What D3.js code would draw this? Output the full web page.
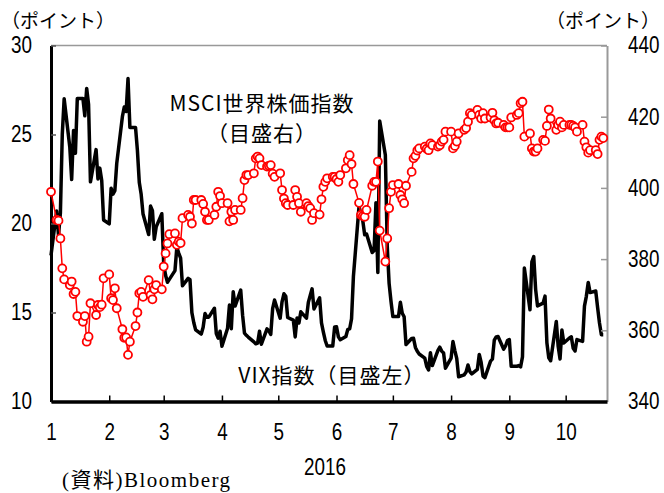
<!DOCTYPE html>
<meta charset=utf-8>
<style>
body { margin: 0; background: white }
svg { display: block }
.tick text { font-family: "Liberation Sans", sans-serif; font-size: 23px; fill: black }
.jp { font-family: "Noto Sans CJK JP", sans-serif; fill: black }
</style>
<script src="https://cdn.jsdelivr.net/npm/d3@7"></script>
<body>
<svg width=664 height=493 id=chart></svg>
<script>
// month tick labels
const months = ["1","2","3","4","5","6","7","8","9","10"];
const leftTicks = [10, 15, 20, 25, 30];
const rightTicks = [340, 360, 380, 400, 420, 440];

// VIX (left axis), one value per weekday, Jan 1 .. Oct 21 2016
const vix = [
	18.21, 20.70, 19.34, 20.59, 24.99, 27.01, 24.30, 22.47, 25.22, 23.95, 27.02, 27.02, 26.05, 27.59, 26.69, 22.34, 24.15, 22.50, 23.11, 22.42, 20.20,
	19.98, 21.98, 21.65, 21.84, 23.38, 26.00, 26.54, 26.29, 28.14, 25.40, 25.40, 24.11, 22.31, 21.64, 20.53, 19.38, 20.98, 20.72, 19.11, 19.81, 20.55,
	17.70, 17.09, 16.70, 16.86, 17.35, 18.67, 18.34, 18.05, 16.50, 16.92, 16.84, 14.99, 14.44, 14.02, 13.79, 14.17, 14.94, 14.74, 14.74, 15.24, 13.82, 13.56, 13.95,
	13.10, 14.12, 15.42, 14.09, 16.16, 15.36, 16.26, 14.85, 13.84, 13.72, 13.62, 13.35, 13.24, 13.28, 13.95, 13.22, 14.08, 13.96, 13.77, 15.22, 15.70,
	14.68, 15.60, 16.05, 15.91, 14.72, 14.57, 13.63, 14.69, 14.41, 15.04, 14.68, 15.57, 15.95, 16.33, 15.20, 15.82, 14.42, 13.90, 13.43, 13.12, 13.12, 14.19,
	14.20, 13.63, 13.47, 13.65, 14.05, 14.08, 14.64, 17.03, 20.97, 20.50, 20.14, 19.37, 19.41, 18.37, 18.48, 21.17, 17.25, 25.76, 23.85, 18.75, 16.64, 15.63,
	14.77, 14.77, 15.58, 14.96, 14.76, 13.20, 13.54, 13.55, 13.04, 12.82, 12.67, 12.44, 11.97, 11.77, 12.74, 12.02, 12.87, 13.05, 12.83, 12.72, 11.87,
	12.44, 13.37, 12.86, 12.42, 11.39, 11.50, 11.66, 12.05, 11.68, 11.55, 11.81, 12.64, 12.19, 11.43, 11.34, 12.27, 12.38, 13.45, 13.63, 13.65, 12.94, 13.12, 13.42,
	13.48, 11.98, 11.98, 12.02, 11.94, 12.51, 17.50, 15.16, 17.85, 18.14, 16.30, 15.37, 15.53, 15.92, 13.30, 12.45, 12.29, 14.50, 13.10, 12.39, 14.02, 13.29,
	13.57, 13.63, 12.99, 12.84, 13.48, 13.38, 15.36, 15.91, 16.69, 16.12, 16.21, 15.28, 14.41, 13.75, 13.75
];

// MSCI world index (right axis), same days
const msci = [
	398.9, 391.0, 390.8, 385.8, 377.4, 374.3, 372.7, 373.7, 370.2, 370.8, 364.0, 362.4, 364.0, 356.8, 358.2, 367.6, 364.3, 367.1, 366.5, 367.2, 374.6,
	375.7, 369.0, 368.5, 371.8, 366.2, 360.3, 357.9, 358.0, 353.1, 356.8, 361.2, 365.0, 370.4, 370.8, 369.4, 374.1, 369.9, 368.7, 371.5, 372.7, 371.5,
	377.9, 381.6, 384.4, 387.0, 387.2, 384.0, 384.9, 384.5, 391.5, 392.4, 391.9, 390.0, 396.6, 396.6, 396.6, 395.5, 393.3, 391.0, 391.0, 392.4, 394.7, 398.9, 397.7,
	395.7, 395.7, 390.6, 393.3, 391.0, 393.8, 393.8, 397.1, 402.2, 403.6, 403.6, 404.1, 408.3, 408.8, 408.3, 406.4, 406.0, 406.2, 406.4, 404.0, 403.1,
	404.1, 399.4, 397.0, 395.7, 395.2, 395.2, 399.4, 397.5, 395.7, 393.3, 395.7, 394.9, 394.3, 391.0, 392.9, 392.5, 396.8, 400.3, 401.7, 402.7, 403.1, 403.1,
	402.5, 401.7, 403.6, 405.5, 407.8, 409.2, 406.7, 401.1, 395.8, 392.4, 392.1, 391.9, 393.8, 400.6, 401.7, 401.7, 407.4, 388.0, 379.3, 385.8, 394.3, 398.9,
	400.8, 401.1, 398.0, 396.8, 395.7, 400.6, 404.5, 408.3, 409.0, 410.5, 411.1, 411.6, 411.0, 410.6, 412.5, 412.0, 411.6, 412.0, 413.0, 413.5, 415.8,
	415.8, 411.1, 411.8, 413.0, 415.3, 416.3, 416.8, 418.6, 421.0, 420.5, 421.9, 420.5, 419.5, 421.0, 419.5, 419.8, 421.1, 419.0, 418.1, 418.3, 417.7, 417.0, 417.0,
	417.0, 419.8, 420.5, 421.0, 423.8, 424.2, 414.4, 415.3, 411.1, 410.2, 410.2, 411.1, 413.5, 413.2, 417.4, 422.0, 419.5, 416.3, 417.7, 418.6, 417.0, 417.7,
	417.7, 417.7, 417.4, 417.0, 415.8, 417.7, 413.0, 411.4, 409.9, 410.6, 410.6, 409.5, 413.5, 414.4, 414.0
];

const days = d3.timeDay.range(new Date(2016, 0, 1), new Date(2016, 9, 22)).filter(d => d.getDay() % 6 !== 0);

const svg = d3.select(chart);
const margin = {top: 45.5, right: 57, bottom: 91.5, left: 51};
const width = +svg.attr("width"), height = +svg.attr("height");
const squeeze = 0.82; // narrow the digits like the original font

const x = d3.scaleTime()
	.domain([new Date(2016, 0, 1), new Date(2016, 9, 23)])
	.range([margin.left, width - margin.right]);
const yL = d3.scaleLinear()
	.domain([10, 30])
	.range([height - margin.bottom, margin.top]);
const yR = d3.scaleLinear()
	.domain([340, 440])
	.range([height - margin.bottom, margin.top]);

function narrow(g) {
	g.selectAll(".tick text")
		.attr("font-size", null).attr("font-family", null)
		.attr("x", function () { return +this.getAttribute("x") / squeeze; })
		.attr("transform", `scale(${squeeze},1)`);
}

// top frame line
svg.append("line")
	.attr("x1", margin.left).attr("x2", width - margin.right)
	.attr("y1", margin.top).attr("y2", margin.top)
	.attr("stroke", "#999").attr("stroke-width", 1.5);

// VIX line
svg.append("path")
	.datum(vix)
	.attr("fill", "none")
	.attr("stroke", "black")
	.attr("stroke-width", 3.5)
	.attr("stroke-linejoin", "round")
	.attr("d", d3.line().x((d, i) => x(days[i])).y(d => yL(d)));

// right axis (grey)
svg.append("g")
	.attr("transform", `translate(${width - margin.right},0)`)
	.call(d3.axisRight(yR).tickValues(rightTicks).tickSizeInner(-6).tickSizeOuter(0).tickPadding(21))
	.call(g => g.select(".domain").attr("stroke", "#999").attr("stroke-width", 2))
	.call(g => g.selectAll(".tick line").attr("stroke", "#999").attr("stroke-width", 1.5))
	.call(narrow);

// left axis
svg.append("g")
	.attr("transform", `translate(${margin.left},0)`)
	.call(d3.axisLeft(yL).tickValues(leftTicks).tickSizeInner(-5).tickSizeOuter(0).tickPadding(19))
	.call(g => g.select(".domain").attr("stroke-width", 3))
	.call(g => g.selectAll(".tick line").attr("stroke", "#555").attr("stroke-width", 1.5))
	.call(narrow);

// bottom axis
svg.append("g")
	.attr("transform", `translate(0,${height - margin.bottom})`)
	.call(d3.axisBottom(x)
		.tickValues(months.map((m, i) => new Date(2016, i, 1)))
		.tickFormat((d, i) => months[i])
		.tickSizeInner(-6).tickSizeOuter(0).tickPadding(22))
	.call(g => g.select(".domain").attr("stroke-width", 3.5))
	.call(g => g.selectAll(".tick line").attr("stroke-width", 1.5))
	.call(narrow);

// MSCI line + markers
svg.append("path")
	.datum(msci)
	.attr("fill", "none")
	.attr("stroke", "#ff0000")
	.attr("stroke-width", 1.5)
	.attr("d", d3.line().x((d, i) => x(days[i])).y(d => yR(d)));
svg.append("g")
	.selectAll("circle")
	.data(msci)
	.join("circle")
		.attr("cx", (d, i) => x(days[i]))
		.attr("cy", d => yR(d))
		.attr("r", 4)
		.attr("fill", "white")
		.attr("stroke", "#ff0000")
		.attr("stroke-width", 1.8);

// texts
svg.append("text").attr("class", "jp").attr("x", 1).attr("y", 28).attr("font-size", 19).text("（ポイント）");
svg.append("text").attr("class", "jp").attr("x", 546).attr("y", 28).attr("font-size", 19).text("（ポイント）");
svg.append("text").attr("class", "jp").attr("x", 262).attr("y", 111).attr("font-size", 21).attr("text-anchor", "middle").attr("letter-spacing", 1).text("MSCI世界株価指数");
svg.append("text").attr("class", "jp").attr("x", 262).attr("y", 141).attr("font-size", 21).attr("text-anchor", "middle").attr("letter-spacing", 1).text("（目盛右）");
svg.append("text").attr("class", "jp").attr("x", 332).attr("y", 383).attr("font-size", 21).attr("text-anchor", "middle").attr("letter-spacing", 1).text("VIX指数（目盛左）");
svg.append("text").attr("x", 325 / squeeze).attr("y", 475).attr("font-size", 23).attr("text-anchor", "middle")
	.attr("transform", `scale(${squeeze},1)`)
	.attr("font-family", "'Liberation Sans', sans-serif").text("2016");
svg.append("text").attr("x", 62).attr("y", 487).attr("font-size", 21).attr("letter-spacing", 1.5)
	.attr("font-family", "'Liberation Serif', 'Noto Sans CJK JP', serif").text("(資料)Bloomberg");
</script>
</body>
